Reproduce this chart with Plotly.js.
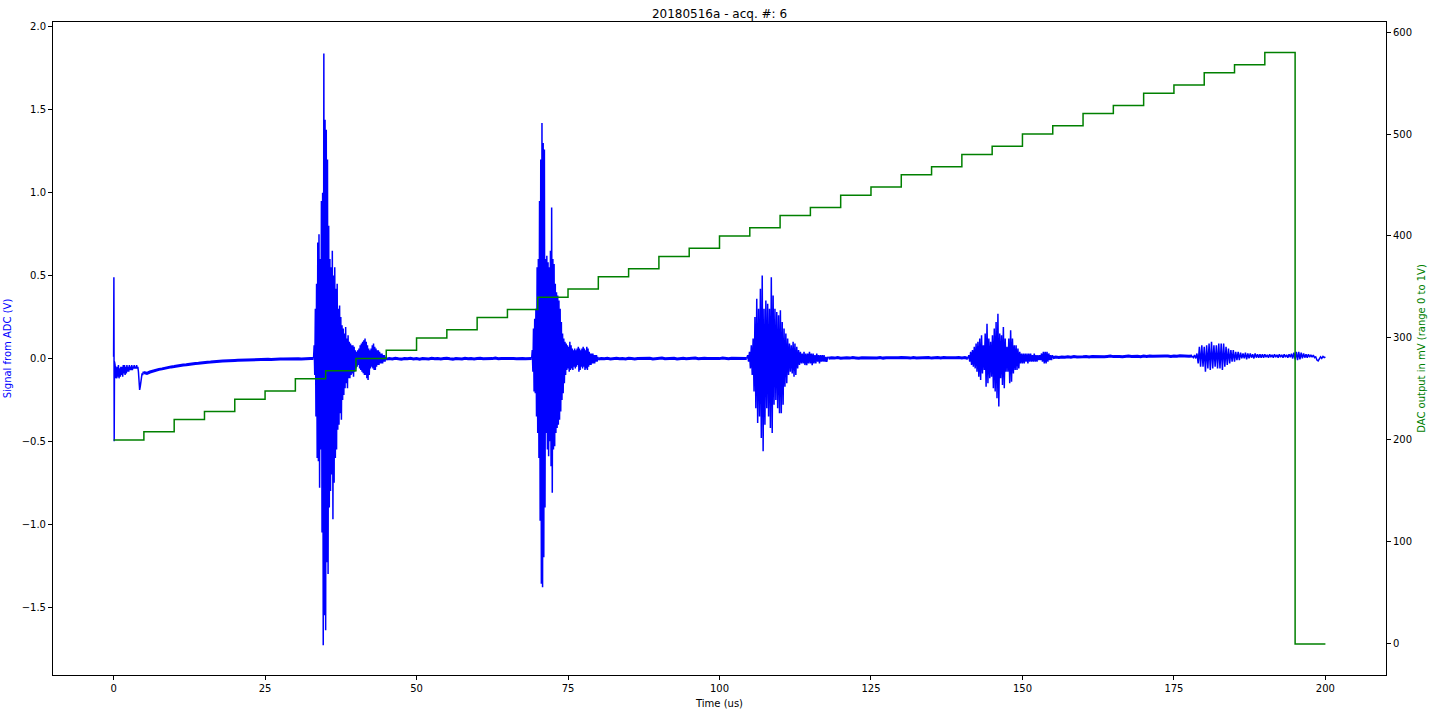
<!DOCTYPE html>
<html>
<head>
<meta charset="utf-8">
<script src="https://cdn.plot.ly/plotly-3.0.1.min.js"></script>
<style>html,body{margin:0;padding:0;background:#fff;}#chart{width:1432px;height:712px;}</style>
</head>
<body>
<div id="chart"></div>
<script>
// ---- ADC signal (V), segments sampled at uniform rate ----
// segment A: t0 = 0, dt = 0.05 us
const adcStartA = 0, adcStepA = 0.05;
const adcA = [0.01, 0.49, -0.50, -0.02, -0.13, -0.04, -0.12, -0.05, -0.11, -0.06, -0.12];
// segment B: t0 = 0.5, dt = 0.1
const adcStartB = 0.5, adcStepB = 0.1;
const adcB = [-0.12, -0.05, -0.11, -0.04, -0.12, -0.06, -0.11, -0.05, -0.10, -0.05,
  -0.11, -0.04, -0.09, -0.04, -0.10, -0.05, -0.09, -0.04, -0.08, -0.05,
  -0.08, -0.04, -0.07, -0.05, -0.07, -0.04, -0.07, -0.05, -0.06, -0.04,
  -0.06, -0.05, -0.06, -0.04, -0.06, -0.05, -0.08, -0.13, -0.19, -0.17,
  -0.14, -0.11, -0.09, -0.10, -0.08, -0.09];
// segment C: t0 = 5, dt = 0.5 (slow recovery)
const adcStartC = 5, adcStepC = 0.5;
const adcC = [-0.085, -0.09, -0.082, -0.076, -0.072, -0.066, -0.063, -0.058, -0.055, -0.051,
  -0.049, -0.045, -0.043, -0.04, -0.038, -0.034, -0.033, -0.03, -0.029, -0.026,
  -0.025, -0.023, -0.022, -0.019, -0.019, -0.017, -0.016, -0.014, -0.014, -0.012,
  -0.012, -0.011, -0.01, -0.009, -0.009, -0.008, -0.008, -0.007, -0.007, -0.006,
  -0.006, -0.005, -0.006, -0.004, -0.005, -0.004, -0.004, -0.003, -0.004, -0.002,
  -0.003, -0.002, -0.003, -0.001, -0.002, -0.001, 0.0];
// segment D (burst 1): t0 = 33, dt = 0.1
const adcStartD = 33, adcStepD = 0.1;
const adcD = [0.00, 0.08, -0.10, 0.30, -0.35, 0.45, -0.60, 0.70, -0.62, 0.75,
  -0.78, 0.60, -0.55, 0.95, -1.05, 1.00, -1.73, 1.84, -1.55, 1.44,
  -1.64, 1.38, -1.23, 1.20, -1.30, 0.80, -0.90, 0.60, -0.80, 0.55,
  -0.70, 0.65, -0.97, 0.50, -0.75, 0.55, -0.60, 0.42, -0.55, 0.45,
  -0.43, 0.30, -0.40, 0.32, -0.33, 0.25, -0.37, 0.20, -0.25, 0.18,
  -0.22, 0.15, -0.18, 0.19, -0.15, 0.12, -0.18, 0.14, -0.12, 0.10,
  -0.12, 0.09, -0.10, 0.08, -0.09, 0.08, -0.11, 0.07, -0.08, 0.05,
  -0.06, 0.04, -0.05, 0.05, -0.04, 0.06, -0.06, 0.08, -0.07, 0.09,
  -0.08, 0.10, -0.09, 0.11, -0.10, 0.12, -0.10, 0.10, -0.12, 0.08,
  -0.13, 0.06, -0.10, 0.05, -0.06, 0.06, -0.05, 0.08, -0.06, 0.09,
  -0.07, 0.07, -0.07, 0.06, -0.05, 0.05, -0.04, 0.05, -0.04, 0.04,
  -0.03, 0.03, -0.03, 0.03, -0.03, 0.02, -0.02, 0.02, -0.02, 0.01,
  -0.01];
// segment E: t0 = 45, dt = 0.5
const adcStartE = 45, adcStepE = 0.5;
const adcE = [-0.004, -0.001, -0.003, 0.001, -0.002, -0.004, 0.0, -0.002, 0.001, -0.003,
  -0.001, -0.004, 0.0, -0.002, -0.003, 0.001, -0.002, 0.0, -0.003, -0.001,
  0.001, -0.002, -0.004, 0.0, -0.001, -0.003, 0.001, -0.002, 0.0, -0.003,
  -0.001, 0.001, -0.002, -0.003, 0.0, -0.001, 0.002, -0.002, -0.001, 0.0,
  -0.003, 0.001, -0.001, -0.002, 0.001, 0.0, -0.002, 0.001, 0.0];
// segment F (burst 2): t0 = 69, dt = 0.1
const adcStartF = 69, adcStepF = 0.1;
const adcF = [0.00, 0.05, -0.08, 0.18, -0.20, 0.24, -0.21, 0.30, -0.35, 0.55,
  -0.45, 0.60, -0.60, 0.95, -0.98, 1.20, -1.36, 1.42, -1.38, 1.30,
  -1.20, 1.26, -0.90, 0.60, -0.45, 0.62, -0.55, 0.58, -0.59, 0.55,
  -0.50, 0.65, -0.65, 0.91, -0.81, 0.60, -0.55, 0.57, -0.53, 0.45,
  -0.45, 0.40, -0.42, 0.38, -0.40, 0.35, -0.37, 0.30, -0.32, 0.22,
  -0.25, 0.15, -0.21, 0.12, -0.15, 0.10, -0.10, 0.09, -0.07, 0.08,
  -0.06, 0.07, -0.08, 0.10, -0.07, 0.08, -0.06, 0.06, -0.07, 0.05,
  -0.05, 0.06, -0.06, 0.05, -0.05, 0.06, -0.04, 0.07, -0.08, 0.06,
  -0.07, 0.05, -0.05, 0.06, -0.06, 0.07, -0.05, 0.06, -0.07, 0.05,
  -0.06, 0.07, -0.07, 0.06, -0.05, 0.04, -0.04, 0.03, -0.04, 0.03,
  -0.03, 0.03, -0.03, 0.02, -0.03, 0.02, -0.02, 0.02, -0.02, 0.01,
  -0.01];
// segment G: t0 = 80, dt = 0.5
const adcStartG = 80, adcStepG = 0.5;
const adcG = [-0.003, 0.0, -0.002, 0.001, -0.003, -0.001, 0.001, -0.002, 0.0, -0.003,
  0.001, -0.001, -0.003, 0.0, 0.001, -0.002, -0.001, 0.001, -0.003, 0.0,
  -0.001, 0.002, -0.002, 0.0, -0.001, 0.001, -0.003, 0.0, 0.001, -0.002,
  0.0, -0.001, 0.002, -0.002, 0.0, 0.001, -0.001, -0.002, 0.001, 0.0,
  -0.001, 0.002, 0.0, -0.002, 0.001, 0.0, -0.001, 0.002, 0.0, 0.0];
// segment H (burst 3): t0 = 104.5, dt = 0.15
const adcStartH = 104.5, adcStepH = 0.15;
const adcH = [0.00, 0.02, -0.02, 0.04, -0.06, 0.08, -0.10, 0.12, -0.20, 0.25,
  -0.30, 0.36, -0.39, 0.30, -0.35, 0.42, -0.48, 0.50, -0.56, 0.30,
  -0.40, 0.35, -0.30, 0.33, -0.35, 0.30, -0.42, 0.49, -0.45, 0.38,
  -0.28, 0.30, -0.25, 0.28, -0.30, 0.26, -0.33, 0.29, -0.33, 0.22,
  -0.28, 0.18, -0.17, 0.15, -0.15, 0.12, -0.10, 0.09, -0.08, 0.08,
  -0.09, 0.10, -0.11, 0.09, -0.10, 0.07, -0.06, 0.05, -0.04, 0.04,
  -0.03, 0.03, -0.03, 0.04, -0.04, 0.03, -0.04, 0.03, -0.03, 0.04,
  -0.03, 0.03, -0.04, 0.03, -0.03, 0.02, -0.03, 0.03, -0.02, 0.02,
  -0.03, 0.02, -0.02, 0.02, -0.02, 0.02, -0.02, 0.01, -0.02, 0.01,
  0.0];
// segment I: t0 = 118, dt = 0.5
const adcStartI = 118, adcStepI = 0.5;
const adcI = [0.001, 0.004, 0.002, 0.005, 0.001, 0.003, 0.004, 0.002, 0.005, 0.003,
  0.001, 0.004, 0.003, 0.005, 0.002, 0.004, 0.003, 0.006, 0.002, 0.004,
  0.003, 0.005, 0.002, 0.004, 0.006, 0.003, 0.004, 0.002, 0.005, 0.003,
  0.004, 0.006, 0.003, 0.005, 0.002, 0.004, 0.005, 0.003, 0.006, 0.004,
  0.003, 0.005, 0.004, 0.006, 0.003, 0.005, 0.0];
// segment J (burst 4): t0 = 141, dt = 0.15
const adcStartJ = 141, adcStepJ = 0.15;
const adcJ = [0.00, 0.02, -0.02, 0.04, -0.04, 0.05, -0.05, 0.07, -0.06, 0.09,
  -0.08, 0.10, -0.11, 0.12, -0.13, 0.14, -0.09, 0.08, -0.07, 0.15,
  -0.17, 0.21, -0.15, 0.12, -0.12, 0.10, -0.11, 0.14, -0.18, 0.18,
  -0.20, 0.22, -0.24, 0.27, -0.29, 0.15, -0.12, 0.14, -0.16, 0.19,
  -0.18, 0.12, -0.08, 0.07, -0.08, 0.12, -0.15, 0.17, -0.14, 0.12,
  -0.09, 0.08, -0.07, 0.08, -0.07, 0.06, -0.06, 0.04, -0.03, 0.03,
  -0.03, 0.03, -0.03, 0.03, -0.02, 0.03, -0.03, 0.03, -0.02, 0.03,
  -0.02, 0.02, -0.02, 0.03, -0.02, 0.02, -0.02, 0.02, -0.01, 0.02,
  -0.01, 0.03, -0.02, 0.04, -0.03, 0.04, -0.03, 0.04, -0.02, 0.03,
  -0.01, 0.02, -0.01, 0.02, 0.004];
// segment K: t0 = 155, dt = 0.5
const adcStartK = 155, adcStepK = 0.5;
const adcK = [0.004, 0.008, 0.006, 0.009, 0.007, 0.01, 0.008, 0.011, 0.009, 0.008,
  0.01, 0.012, 0.009, 0.011, 0.01, 0.013, 0.011, 0.01, 0.012, 0.014,
  0.011, 0.013, 0.012, 0.01, 0.013, 0.015, 0.012, 0.014, 0.013, 0.011,
  0.014, 0.012, 0.015, 0.013, 0.014, 0.016, 0.013, 0.015, 0.014, 0.012,
  0.015, 0.013, 0.016, 0.014, 0.015, 0.013, 0.015];
// segment L (burst 5): t0 = 178, dt = 0.2
const adcStartL = 178, adcStepL = 0.2;
const adcL = [0.015, 0.005, 0.02, 0.0, 0.03, -0.03, 0.07, -0.05, 0.08, -0.05,
  0.07, -0.08, 0.08, -0.06, 0.09, -0.07, 0.10, -0.06, 0.08, -0.05,
  0.08, -0.06, 0.09, -0.06, 0.09, -0.07, 0.09, -0.05, 0.07, -0.04,
  0.06, -0.03, 0.05, -0.02, 0.05, -0.02, 0.04, -0.01, 0.04, -0.01,
  0.035, 0.0, 0.03, 0.0, 0.035, -0.005, 0.03, 0.0, 0.03, 0.005,
  0.025, 0.0, 0.03, 0.005, 0.025, 0.005, 0.025, 0.005, 0.025, 0.005,
  0.025, 0.008, 0.022, 0.005, 0.025, 0.008, 0.022, 0.005, 0.025, 0.008,
  0.022, 0.005, 0.025, 0.008, 0.022, 0.005, 0.025, 0.008, 0.022, 0.005,
  0.025, 0.008, 0.028, 0.0, 0.035, -0.005, 0.04, -0.01, 0.04, -0.005,
  0.035, 0.0, 0.03, 0.005, 0.025, 0.005, 0.025, 0.008, 0.022, 0.008,
  0.02, 0.005, 0.01, -0.01, -0.015, 0.0, 0.01, 0.0, 0.012, 0.005,
  0.01];

// ---- DAC output (mV), stepped every 5 us ----
const dacTime = [0, 5, 10, 15, 20, 25, 30, 35, 40, 45, 50, 55, 60, 65, 70, 75, 80, 85, 90, 95,
  100, 105, 110, 115, 120, 125, 130, 135, 140, 145, 150, 155, 160, 165, 170, 175, 180, 185, 190, 195, 200];
const dacValues = [200, 208, 220, 228, 240, 248, 260, 268, 280, 288, 300, 308, 320, 328, 340, 348, 360, 368, 380, 388,
  400, 408, 420, 428, 440, 448, 460, 468, 480, 488, 500, 508, 520, 528, 540, 548, 560, 568, 580, 0, 0];

// [start, step, values, isQuietBaseline]
const segments = [
  [adcStartA, adcStepA, adcA, false], [adcStartB, adcStepB, adcB, false], [adcStartC, adcStepC, adcC, true],
  [adcStartD, adcStepD, adcD, false], [adcStartE, adcStepE, adcE, true], [adcStartF, adcStepF, adcF, false],
  [adcStartG, adcStepG, adcG, true], [adcStartH, adcStepH, adcH, false], [adcStartI, adcStepI, adcI, true],
  [adcStartJ, adcStepJ, adcJ, false], [adcStartK, adcStepK, adcK, true], [adcStartL, adcStepL, adcL, false]
];

const FONT = 'DejaVu Sans, Liberation Sans, sans-serif';
const traces = segments.map(s => ({
  type: 'scatter', mode: 'lines', x0: s[0], dx: s[1], y: s[2],
  line: {color: '#0000ff', width: s[3] ? 3 : 1.5}, yaxis: 'y', hoverinfo: 'skip'
}));
traces.push({
  type: 'scatter', mode: 'lines', x: dacTime, y: dacValues,
  line: {color: '#008000', width: 1.5, shape: 'hv'}, yaxis: 'y2', hoverinfo: 'skip'
});

const layout = {
  width: 1432, height: 712,
  margin: {l: 53, r: 46, t: 22, b: 37, pad: 0},
  paper_bgcolor: '#ffffff', plot_bgcolor: '#ffffff',
  showlegend: false,
  font: {family: FONT, size: 10, color: '#000'},
  title: {text: '20180516a - acq. #: 6', font: {family: FONT, size: 12, color: '#000'},
          xref: 'paper', x: 0.5, xanchor: 'center', yref: 'container', y: 0.981, yanchor: 'middle'},
  xaxis: {
    range: [-10, 210], tick0: 0, dtick: 25, ticks: 'outside', ticklen: 4, tickwidth: 1, tickcolor: '#000',
    showline: true, mirror: true, linecolor: '#000', linewidth: 1, showgrid: false, zeroline: false,
    automargin: false, tickfont: {family: FONT, size: 10, color: '#000'},
    title: {text: 'Time (us)', font: {family: FONT, size: 10, color: '#000'}, standoff: 6}
  },
  yaxis: {
    range: [-1.91, 2.03], tick0: 0, dtick: 0.5, tickformat: '.1f', ticks: 'outside', ticklen: 4, tickwidth: 1, tickcolor: '#000',
    showline: true, mirror: true, linecolor: '#000', linewidth: 1, showgrid: false, zeroline: false,
    automargin: false, tickfont: {family: FONT, size: 10, color: '#000'},
    title: {text: 'Signal from ADC (V)', font: {family: FONT, size: 10, color: '#0000ff'}, standoff: 8}
  },
  yaxis2: {
    overlaying: 'y', side: 'right', range: [-30.4, 609.8], tick0: 0, dtick: 100,
    ticks: 'outside', ticklen: 4, tickwidth: 1, tickcolor: '#000',
    showline: true, linecolor: '#000', linewidth: 1, showgrid: false, zeroline: false,
    automargin: false, tickfont: {family: FONT, size: 10, color: '#000'},
    title: {text: 'DAC output in mV (range 0 to 1V)', font: {family: FONT, size: 10, color: '#008000'}, standoff: 6}
  }
};

Plotly.newPlot('chart', traces, layout, {displayModeBar: false, staticPlot: true});
</script>
</body>
</html>
